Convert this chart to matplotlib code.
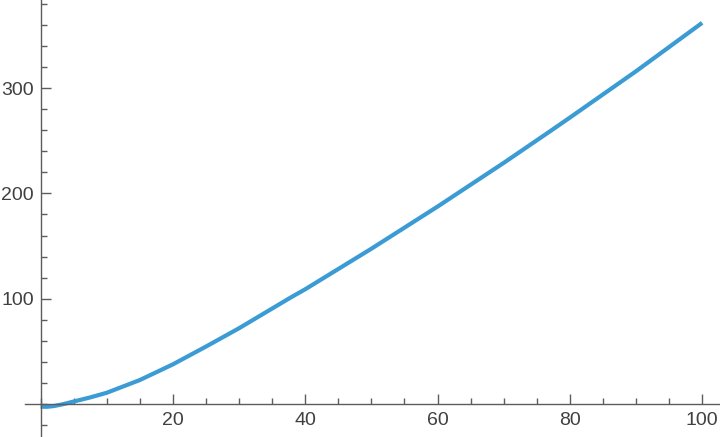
import matplotlib
matplotlib.use("Agg")
import matplotlib.pyplot as plt
from matplotlib.ticker import MultipleLocator, FixedLocator

# values
x_vals = [0, 1, 2, 3, 4, 5, 7.5, 10, 15, 20, 25, 30, 37.7, 40, 50, 60, 70, 77, 80, 90, 100]
y_vals = [-2.5, -2.6, -1.9, -0.7, 0.8, 2.4, 6.3, 10.7, 22.8, 37.7, 54.6, 72,
          100.8, 109, 147.5, 187.5, 229, 259, 272, 316, 362]

x_major = [20, 40, 60, 80, 100]
y_major = [100, 200, 300]

plt.rcParams['font.family'] = ['Liberation Sans', 'DejaVu Sans']

fig = plt.figure(figsize=(7.2, 4.37), dpi=100)
ax = fig.add_axes([25 / 720, 0, 1 - 25 / 720, 1])

ax.plot(x_vals, y_vals, color='#3b9bd4', lw=3, solid_capstyle='butt',
        solid_joinstyle='round')

ax.set_xlim(-2.36, 102.7)
ax.set_ylim(-31.3, 383.7)

axis_col = '#5c5c5c'
for side in ['top', 'right']:
    ax.spines[side].set_visible(False)
for side in ['left', 'bottom']:
    ax.spines[side].set_position(('data', 0))
    ax.spines[side].set_color(axis_col)
    ax.spines[side].set_linewidth(1.0)

ax.xaxis.set_major_locator(FixedLocator(x_major))
ax.xaxis.set_minor_locator(MultipleLocator(5))
ax.yaxis.set_major_locator(FixedLocator(y_major))
ax.yaxis.set_minor_locator(MultipleLocator(20))

ax.tick_params(which='both', direction='in', color=axis_col, width=1.0,
               labelsize=14, labelcolor='#404040')
ax.tick_params(which='major', length=7)
ax.tick_params(which='minor', length=4)
ax.tick_params(axis='x', pad=6)
ax.tick_params(axis='y', pad=5)

fig.savefig('out.png', dpi=100)
plt.close()
